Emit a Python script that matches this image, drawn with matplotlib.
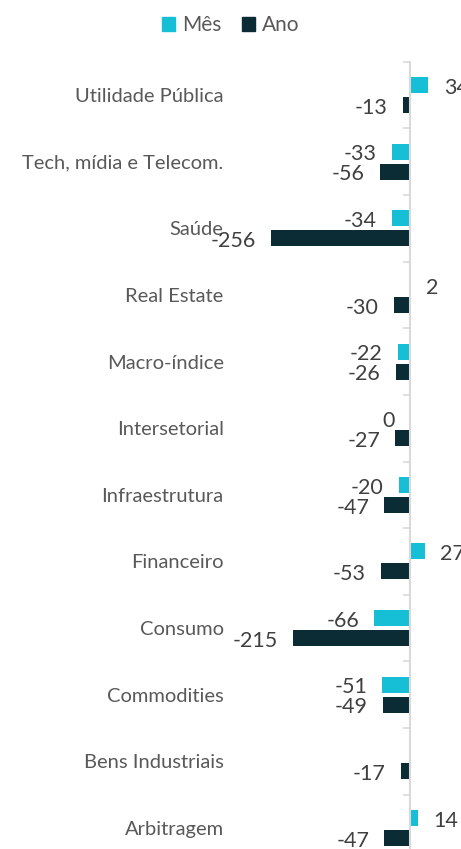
import numpy as np
import matplotlib
matplotlib.use("Agg")
import matplotlib.pyplot as plt
from matplotlib.patches import Patch

categories = ["Utilidade Pública", "Tech, mídia e Telecom.", "Saúde", "Real Estate",
              "Macro-índice", "Intersetorial", "Infraestrutura", "Financeiro",
              "Consumo", "Commodities", "Bens Industriais", "Arbitragem"]
mes = [34, -33, -34, 2, -22, 0, -20, 27, -66, -51, np.nan, 14]
ano = [-13, -56, -256, -30, -26, -27, -47, -53, -215, -49, -17, -47]
series_names = ["Mês", "Ano"]

C_MES = "#17BFD6"
C_ANO = "#0B2B35"
FONT = "Lato"

plt.rcParams["font.family"] = [FONT, "DejaVu Sans"]

W, H = 461, 849
fig = plt.figure(figsize=(W / 100, H / 100), dpi=100)
top_px, bot_px = 61.7, 861.3
ax = fig.add_axes([232 / W, 1 - bot_px / H, 1 - 232 / W, (bot_px - top_px) / H])

y = np.arange(len(categories))
off, h = 0.15, 0.24
ax.barh(y - off, mes, height=h, color=C_MES)
ax.barh(y + off, ano, height=h, color=C_ANO)

ax.set_xlim(-328, 94)
ax.set_ylim(len(categories) - 0.5, -0.5)

for vals, dy in ((mes, -off), (ano, off)):
    for yi, v in zip(y, vals):
        if np.isnan(v):
            continue
        pos = v > 0
        ax.annotate(f"{int(v)}", xy=(v, yi + dy), xytext=(11 if pos else -11, -2),
                    textcoords="offset points", ha="left" if pos else "right",
                    va="center", fontsize=15.5, color="#404040", annotation_clip=False)

for s in ("top", "bottom", "left"):
    ax.spines[s].set_visible(False)
ax.spines["right"].set_position(("data", 0))
ax.spines["right"].set_color("#d9d9d9")
ax.spines["right"].set_linewidth(1.5)
ax.set_xticks([])
ax.set_yticks(y)
ax.set_yticklabels(categories, fontsize=14.5, color="#595959")
ax.set_yticks(np.arange(-0.5, len(categories) + 0.5, 1), minor=True)
ax.tick_params(axis="y", which="major", left=True, right=False, length=0, pad=6)
ax.tick_params(axis="y", which="minor", left=False, right=True, direction="in",
               length=5, width=1.2, color="#d9d9d9")

handles = [Patch(color=C_MES), Patch(color=C_ANO)]
fig.legend(handles, series_names, loc="center", bbox_to_anchor=(0.5, 1 - 25 / H),
           ncol=2, frameon=False, fontsize=15, handlelength=0.65, handleheight=0.65,
           handletextpad=0.3, columnspacing=1.0, labelcolor="#595959")

fig.savefig("out.png", dpi=100)
